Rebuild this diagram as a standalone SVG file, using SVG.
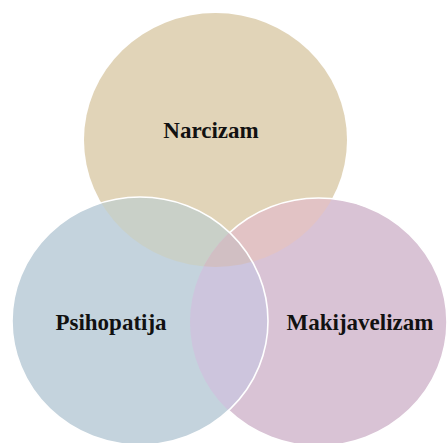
<svg xmlns="http://www.w3.org/2000/svg" width="448" height="443" viewBox="0 0 448 443">
  <style>
    .lbl { font-family: "Liberation Serif", "Times New Roman", serif; font-weight: bold; font-size: 23px; fill: #111111; text-anchor: middle; }
    .edge { fill: none; stroke: #ffffff; stroke-width: 1.6; }
  </style>
  <defs>
    <clipPath id="clipT"><ellipse cx="215.5" cy="140" rx="131.5" ry="127"/></clipPath>
    <clipPath id="clipL"><ellipse cx="140" cy="321" rx="128" ry="124"/></clipPath>
    <clipPath id="clipR"><ellipse cx="318.5" cy="322" rx="128.5" ry="124"/></clipPath>
  </defs>
  <rect width="448" height="443" fill="#ffffff"/>

  <g id="narcizam">
    <ellipse cx="215.5" cy="140" rx="131.5" ry="127" fill="#e1d4b8"/>
  </g>

  <g id="makijavelizam">
    <ellipse cx="318.5" cy="322" rx="128.5" ry="124" fill="#d9c3d5"/>
    <g clip-path="url(#clipR)">
      <ellipse cx="215.5" cy="140" rx="131.5" ry="127" fill="#e2c3c5"/>
    </g>
    <ellipse class="edge" cx="318.5" cy="322" rx="128.5" ry="124"/>
  </g>

  <g id="psihopatija">
    <ellipse cx="140" cy="321" rx="128" ry="124" fill="#c4d3dd"/>
    <g clip-path="url(#clipL)">
      <ellipse cx="215.5" cy="140" rx="131.5" ry="127" fill="#c9d0c8"/>
      <ellipse cx="318.5" cy="322" rx="128.5" ry="124" fill="#cdc5dd"/>
      <g clip-path="url(#clipR)">
        <ellipse cx="215.5" cy="140" rx="131.5" ry="127" fill="#d1bfc3"/>
      </g>
    </g>
    <ellipse class="edge" cx="140" cy="321" rx="128" ry="124"/>
  </g>

  <g id="labels">
    <text class="lbl" x="211" y="138">Narcizam</text>
    <text class="lbl" x="111" y="330">Psihopatija</text>
    <text class="lbl" x="360" y="330">Makijavelizam</text>
  </g>
</svg>
